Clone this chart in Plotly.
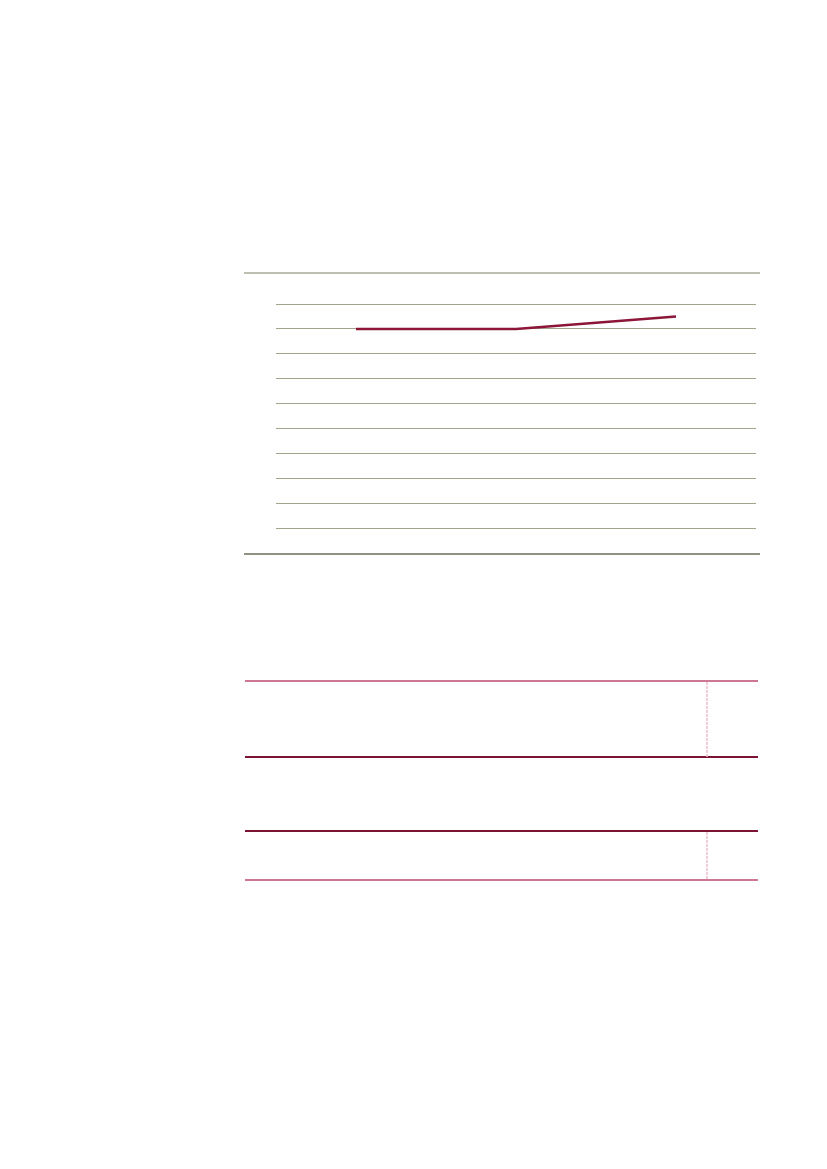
import plotly.graph_objects as go

# chart data (labels were blank in the source page)
categories = ['A', 'B', 'C']
values = [80, 80, 85]
grid_ticks = [0, 10, 20, 30, 40, 50, 60, 70, 80, 90]

# page geometry: plotly div sits at (8, 8) inside the body
W, H = 811, 1153
OFF = 8


def px(x):
    return (x - OFF) / W


def py(y):
    return 1 - (y - OFF) / H


fig = go.Figure()

fig.add_trace(go.Scatter(
    x=categories,
    y=values,
    mode='lines',
    line=dict(color='#8c1538', width=2.5),
    showlegend=False,
    hoverinfo='skip',
))

# y range padded so the gridlines at 0 and 90 are inside the plot area
unit = (528 - 304) / 90
y_top = 304 - 2 * unit
y_bot = 528 + 2 * unit

fig.update_layout(
    width=W,
    height=H,
    margin=dict(l=0, r=0, t=0, b=0),
    paper_bgcolor='white',
    plot_bgcolor='white',
    xaxis=dict(
        domain=[px(276), px(756)],
        type='category',
        range=[-0.5, len(categories) - 0.5],
        showgrid=False,
        showticklabels=False,
        zeroline=False,
        showline=False,
        ticks='',
    ),
    yaxis=dict(
        domain=[py(y_bot), py(y_top)],
        range=[-2, 92],
        tickvals=grid_ticks,
        showgrid=True,
        gridcolor='#a3a38c',
        gridwidth=1.2,
        showticklabels=False,
        zeroline=False,
        showline=False,
        ticks='',
    ),
)

# frame rules around the chart
rules = [
    (244, 760, 273, '#a8a89a', 1.5),
    (244, 760, 554, '#6e6e58', 1.5),
    # table rules below the chart
    (245, 758, 681, '#cc7895', 1.8),
    (245, 758, 757, '#7a1432', 1.8),
    (245, 758, 831, '#7a1432', 1.8),
    (245, 758, 880, '#cc7895', 1.8),
]
for x0, x1, y, col, w in rules:
    fig.add_shape(type='line', xref='paper', yref='paper',
                  x0=px(x0), x1=px(x1), y0=py(y), y1=py(y),
                  line=dict(color=col, width=w))

# dashed column separators in the table
for y0, y1 in [(682, 757), (832, 880)]:
    fig.add_shape(type='line', xref='paper', yref='paper',
                  x0=px(707), x1=px(707), y0=py(y0), y1=py(y1),
                  line=dict(color='#eebccb', width=1.5, dash='3px,1px'))

fig.write_html('out.html')
